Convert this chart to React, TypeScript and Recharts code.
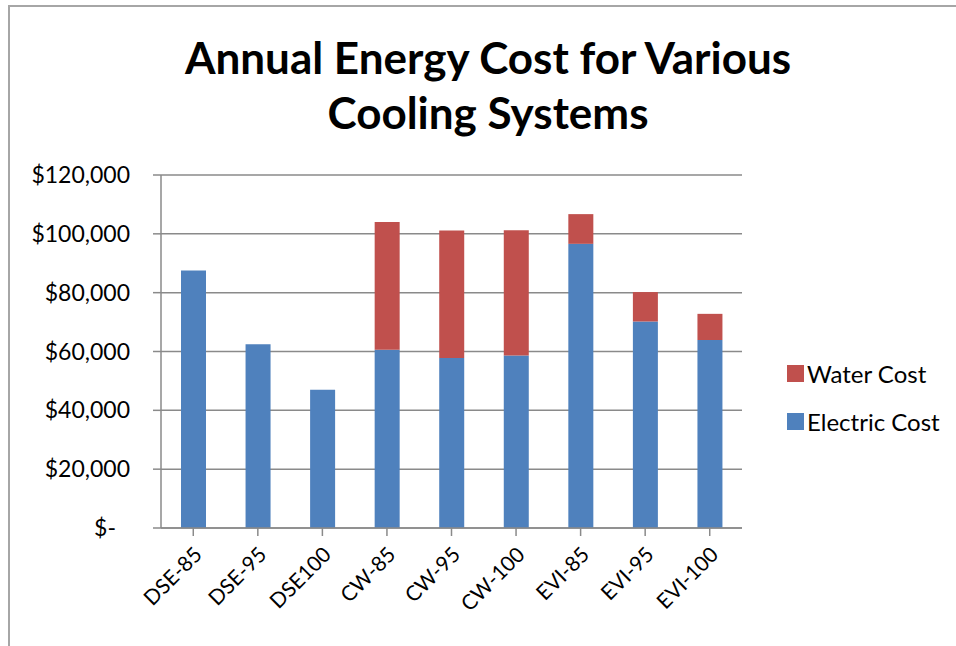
import React from 'react';
import { BarChart, Bar, XAxis, YAxis, CartesianGrid } from 'recharts';

const systems = ['DSE-85', 'DSE-95', 'DSE100', 'CW-85', 'CW-95', 'CW-100', 'EVI-85', 'EVI-95', 'EVI-100'];
const electricCost = [87500, 62500, 47000, 60600, 57800, 58600, 96600, 70200, 63900];
const waterCost = [0, 0, 0, 43400, 43300, 42600, 10100, 10000, 8900];
const yTicks = [0, 20000, 40000, 60000, 80000, 100000, 120000];

const data = systems.map((name, i) => ({
  name,
  electric: electricCost[i],
  water: waterCost[i],
}));

const BLUE = '#4F81BD';
const RED = '#C0504D';
const GRID = '#8a8a8a';
const FONT = 'Lato, "Open Sans", sans-serif';

function YTick({ x, y, payload }: any) {
  const v = payload.value as number;
  const label = v === 0 ? '$-' : '$' + v.toLocaleString('en-US');
  return (
    <text
      x={v === 0 ? x - 35 : x - 21}
      y={y}
      dy={8}
      fontSize={23}
      fontFamily={FONT}
      fill="#000"
      textAnchor="end"
    >
      {label}
    </text>
  );
}

function XTick({ x, y, payload }: any) {
  const ax = x + 10;
  const ay = y + 18;
  return (
    <text
      x={ax}
      y={ay}
      transform={`rotate(-45, ${ax}, ${ay})`}
      textAnchor="end"
      fontSize={21}
      fontFamily={FONT}
      fill="#000"
    >
      {payload.value}
    </text>
  );
}

const legendItems = [
  { label: 'Water Cost', color: RED, top: 373 },
  { label: 'Electric Cost', color: BLUE, top: 421 },
];

export default function App() {
  return (
    <div style={{ position: 'absolute', left: 0, top: 0, width: 956, height: 646, background: '#fff', overflow: 'hidden' }}>
      <div
        style={{
          position: 'absolute',
          left: 8,
          top: 5,
          right: -10,
          bottom: -10,
          borderTop: '2px solid #a6a6a6',
          borderLeft: '2px solid #a6a6a6',
        }}
      />
      <div
        style={{
          position: 'absolute',
          left: 0,
          width: 976,
          top: 30,
          textAlign: 'center',
          fontFamily: FONT,
          fontWeight: 700,
          fontSize: 44,
          lineHeight: '55px',
          color: '#000',
        }}
      >
        Annual Energy Cost for Various
        <br />
        Cooling Systems
      </div>
      <BarChart
        width={956}
        height={646}
        data={data}
        margin={{ top: 175, right: 214, bottom: 0, left: 0 }}
        barSize={25}
      >
        <CartesianGrid vertical={false} stroke={GRID} strokeWidth={1.5} />
        <XAxis
          dataKey="name"
          height={118}
          tick={<XTick />}
          tickSize={8}
          axisLine={{ stroke: GRID, strokeWidth: 1.5 }}
          tickLine={{ stroke: GRID, strokeWidth: 1.5 }}
          interval={0}
        />
        <YAxis
          width={161}
          domain={[0, 120000]}
          ticks={yTicks}
          tick={<YTick />}
          tickSize={8}
          axisLine={{ stroke: GRID, strokeWidth: 1.5 }}
          tickLine={{ stroke: GRID, strokeWidth: 1.5 }}
          interval={0}
        />
        <Bar dataKey="electric" stackId="a" fill={BLUE} isAnimationActive={false} />
        <Bar dataKey="water" stackId="a" fill={RED} isAnimationActive={false} />
      </BarChart>
      {legendItems.map((it) => (
        <div
          key={it.label}
          style={{
            position: 'absolute',
            left: 787,
            top: it.top - 15,
            height: 30,
            display: 'flex',
            alignItems: 'center',
            fontFamily: FONT,
            fontSize: 24,
            color: '#000',
            whiteSpace: 'nowrap',
          }}
        >
          <span style={{ width: 17, height: 17, background: it.color, marginRight: 3, display: 'inline-block' }} />
          <span>{it.label}</span>
        </div>
      ))}
    </div>
  );
}
